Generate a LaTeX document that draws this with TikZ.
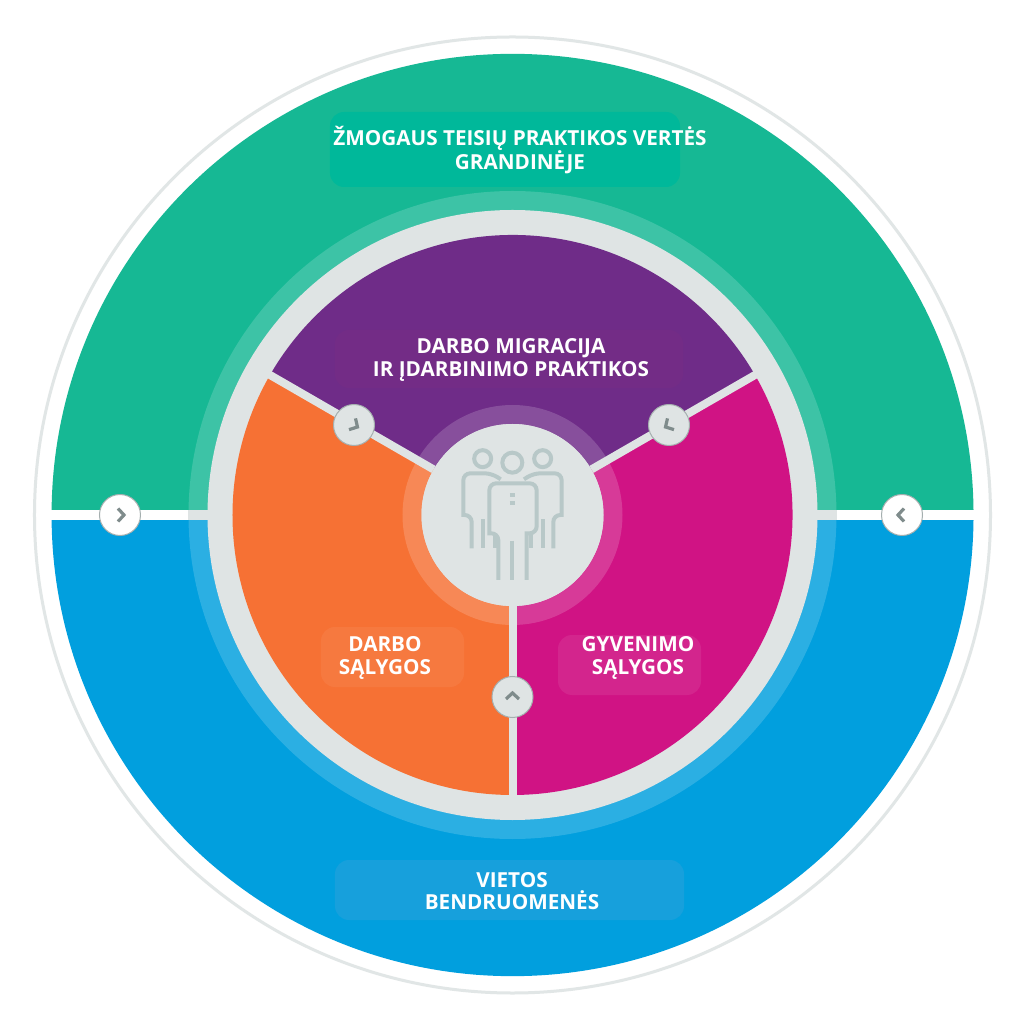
\documentclass[tikz,border=0pt]{standalone}
\usepackage{fontspec}
\setmainfont{Open Sans}
\usetikzlibrary{positioning,calc}
\definecolor{chaingreen}{HTML}{16B894}
\definecolor{chainbox}{HTML}{00B89A}
\definecolor{localblue}{HTML}{019FDE}
\definecolor{localbox}{HTML}{17A0DC}
\definecolor{migpurple}{HTML}{6F2C88}
\definecolor{migbox}{HTML}{732C86}
\definecolor{workorange}{HTML}{F67134}
\definecolor{lifepink}{HTML}{D01384}
\definecolor{hubgrey}{HTML}{DFE4E4}
\definecolor{icongrey}{HTML}{B8C8C8}
\definecolor{chevgrey}{HTML}{7F8C8C}
\definecolor{rimgrey}{HTML}{E1E6E6}
\tikzset{%
     labelbox/.style = { rounded corners=14pt, inner sep=0pt },
    labeltext/.style = { white, align=center, inner sep=0pt, font=\fontsize{20.7}{22.5}\bfseries\selectfont },
        spoke/.style = { hubgrey, line width=8pt },
        badge/.style = { circle, draw=chevgrey!70, line width=1pt, minimum size=41pt, inner sep=0pt },
      chevron/.style = { chevgrey, line width=3.2pt, line join=miter },
         body/.style = { icongrey, line width=4pt, rounded corners=7pt },
         head/.style = { icongrey, line width=4pt }
}
\begin{document}
\begin{tikzpicture}[x=1pt,y=1pt]
  \useasboundingbox (-512.5,-509) rectangle (511.5,515);
  \fill[white] (-512.5,-509) rectangle (511.5,515);

  % outer rim and the two half discs
  \draw[rimgrey, line width=3pt] (0,0) circle (478);
  \fill[chaingreen] (-460.9,5) arc[start angle=179.4, end angle=0.6, radius=461] -- cycle;
  \fill[localblue] (-460.9,-5) arc[start angle=180.6, end angle=359.4, radius=461] -- cycle;
  \fill[white, opacity=0.17] (0,0) circle (324);

  % grey strip, with the white ends
  \fill[white] (-461,-5) rectangle (461,5);
  \fill[hubgrey] (-324,-5) rectangle (324,5);
  \fill[hubgrey] (0,0) circle (305);

  % wedges
  \fill[migpurple] (0,0) -- (150:280) arc[start angle=150, end angle=30, radius=280] -- cycle;
  \fill[workorange] (0,0) -- (270:280) arc[start angle=270, end angle=150, radius=280] -- cycle;
  \fill[lifepink] (0,0) -- (30:280) arc[start angle=30, end angle=-90, radius=280] -- cycle;
  \fill[white, opacity=0.17] (0,0) circle (110);

  \node[circle, fill=hubgrey, minimum size=182pt, inner sep=0pt] (hub) at (0,0) {};
  \coordinate (spokeL) at (150:284);
  \coordinate (spokeR) at (30:284);
  \coordinate (spokeB) at (270:284);
  \draw[spoke] (hub) -- (spokeL);
  \draw[spoke] (hub) -- (spokeR);
  \draw[spoke] (hub) -- (spokeB);
  \node[circle, fill=hubgrey, minimum size=182pt, inner sep=0pt] at (hub) {};

  % people icon
  \begin{scope}[shift={(-112.5,125)},x=0.3333pt,y=-0.3333pt]
    \draw[head] (248,206) circle (8.5pt);
    \draw[head] (428,206) circle (8.5pt);
    \draw[head] (337,218) circle (10pt);
    \draw[body] (215,475) -- (215,375) [sharp corners] -- (190,375) [rounded corners=7pt] -- (190,250) -- (275,250) -- (302,268);
    \draw[body] (460,475) -- (460,375) [sharp corners] -- (485,375) [rounded corners=7pt] -- (485,250) -- (400,250) -- (372,268);
    \draw[body] (248,388) -- (248,475);
    \draw[body] (428,388) -- (428,475);
    \draw[body] (284,430) -- (284,475);
    \draw[body] (394,430) -- (394,475);
    \draw[body] (295,570) -- (295,430) [sharp corners] -- (268,430) [rounded corners=7pt] -- (268,280) -- (410,280) -- (410,430) [sharp corners] -- (380,430) -- (380,570);
    \draw[body] (337,452) -- (337,570);
    \draw[body] (330,314) -- (344,314);
    \draw[body] (330,340) -- (344,340);
  \end{scope}

  % label boxes and texts
  \node[labelbox, fill=chainbox, minimum width=350pt, minimum height=75pt] (chainbox) at (-7.5,365.5) {};
  \node[labeltext] (chaintext) at (7.5,365) {ŽMOGAUS TEISIŲ PRAKTIKOS VERTĖS\\GRANDINĖJE};
  \node[labelbox, fill=migbox, minimum width=348pt, minimum height=58pt] (migbox) at (-3.5,156) {};
  \node[labeltext] (migtext) at (-1.5,155) {DARBO MIGRACIJA\\IR ĮDARBINIMO PRAKTIKOS};
  \node[labelbox, fill=white, fill opacity=0.06, minimum width=143pt, minimum height=60pt] (workbox) at (-120,-142) {};
  \node[labeltext] (worktext) at (-127.5,-143) {DARBO\\SĄLYGOS};
  \node[labelbox, fill=white, fill opacity=0.08, minimum width=143pt, minimum height=60pt] (lifebox) at (117,-150) {};
  \node[labeltext] (lifetext) at (125.5,-143) {GYVENIMO\\SĄLYGOS};
  \node[labelbox, fill=localbox, minimum width=349pt, minimum height=60pt] (localbox) at (-3,-375) {};
  \node[labeltext] (localtext) at (-0.5,-376) {VIETOS\\BENDRUOMENĖS};

  % badges with their chevrons
  \node[badge, fill=white] (badgeW) at (-392.5,0) {};
  \node[badge, fill=white] (badgeE) at (389.5,0) {};
  \node[badge, fill=hubgrey] (badgeS) at (0,-182) {};
  \node[badge, fill=hubgrey] (badgeNW) at (-158.5,90) {};
  \node[badge, fill=hubgrey] (badgeNE) at (156.5,90) {};
  \foreach \badgename/\ang in {badgeW/0,badgeE/180,badgeS/90,badgeNW/-30,badgeNE/210}{
    \draw[chevron, shift={(\badgename)}, rotate=\ang] (-2,6.5) -- (4,0) -- (-2,-6.5);
  }
\end{tikzpicture}
\end{document}
